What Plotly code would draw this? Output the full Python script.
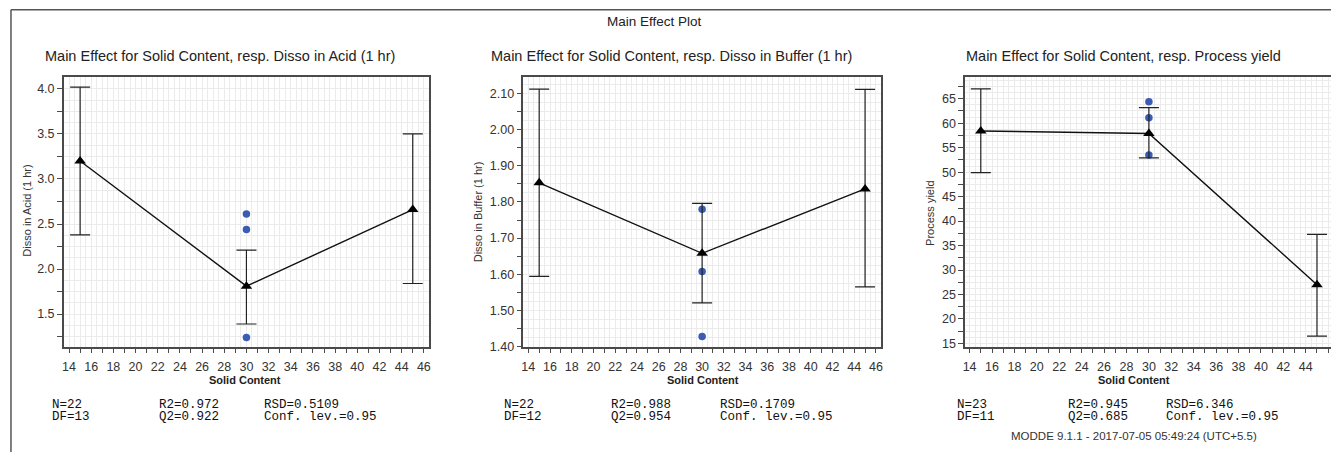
import plotly.graph_objects as go

W, H = 1333, 459

# ---------------- data ----------------
levels = [15, 30, 45]
rep_x = [30, 30, 30]

acid_mean = [3.20, 1.81, 2.66]
acid_hi = [4.02, 2.21, 3.50]
acid_lo = [2.38, 1.39, 1.84]
acid_rep = [2.61, 2.44, 1.24]

buffer_mean = [1.853, 1.658, 1.836]
buffer_hi = [2.112, 1.796, 2.111]
buffer_lo = [1.594, 1.521, 1.565]
buffer_rep = [1.780, 1.608, 1.428]

yield_mean = [58.4, 57.9, 27.0]
yield_hi = [67.0, 63.2, 37.3]
yield_lo = [49.9, 52.9, 16.5]
yield_rep = [64.4, 61.1, 53.5]

x_ticks = list(range(14, 47))
x_ticktext = [str(v) if v % 2 == 0 else "" for v in x_ticks]

acid_ticks = [1.25 + 0.25 * i for i in range(12)]
acid_ticktext = [f"{v:.1f}" if abs(v * 2 - round(v * 2)) < 1e-9 else "" for v in acid_ticks]
buffer_ticks = [round(1.40 + 0.05 * i, 2) for i in range(15)]
buffer_ticktext = [f"{v:.2f}" if i % 2 == 0 else "" for i, v in enumerate(buffer_ticks)]
yield_ticks = [15 + 2.5 * i for i in range(22)]
yield_ticktext = [str(int(v)) if i % 2 == 0 else "" for i, v in enumerate(yield_ticks)]

titles = ["Main Effect for Solid Content, resp. Disso in Acid (1 hr)",
          "Main Effect for Solid Content, resp. Disso in Buffer (1 hr)",
          "Main Effect for Solid Content, resp. Process yield"]
ytitles = ["Disso in Acid (1 hr)", "Disso in Buffer (1 hr)", "Process yield"]
stats = [
    ("N=22", "R2=0.972", "RSD=0.5109", "DF=13", "Q2=0.922", "Conf. lev.=0.95"),
    ("N=22", "R2=0.988", "RSD=0.1709", "DF=12", "Q2=0.954", "Conf. lev.=0.95"),
    ("N=23", "R2=0.945", "RSD=6.346", "DF=11", "Q2=0.685", "Conf. lev.=0.95"),
]

# ---------------- layout geometry (pixels) ----------------
px_dom = [(62, 428), (523, 882), (966, 1333)]
y_dom = [1 - 352 / H, 1 - 78 / H]
x_ranges = [[13.53, 46.44], [13.55, 46.5], [13.6, 46.25]]
y_ranges = [[1.139, 4.134], [1.40, 2.146], [14.34, 69.48]]
y_tick_sets = [(acid_ticks, acid_ticktext, 0.125),
               (buffer_ticks, buffer_ticktext, 0.025),
               (yield_ticks, yield_ticktext, 1.25)]

series = [(acid_mean, acid_hi, acid_lo, acid_rep),
          (buffer_mean, buffer_hi, buffer_lo, buffer_rep),
          (yield_mean, yield_hi, yield_lo, yield_rep)]

FONT = "Liberation Sans, Arial, sans-serif"
AX = "#4a4a4a"
GRID = "#ebebeb"
BLUE = "#3a5cb4"

fig = go.Figure()

for i, (mean, hi, lo, rep) in enumerate(series):
    sfx = "" if i == 0 else str(i + 1)
    xa, ya = "x" + sfx, "y" + sfx
    fig.add_trace(go.Scatter(
        x=rep_x, y=rep, mode="markers", xaxis=xa, yaxis=ya,
        marker=dict(symbol="circle", size=7.5, color=BLUE), showlegend=False))
    fig.add_trace(go.Scatter(
        x=levels, y=mean, mode="lines+markers", xaxis=xa, yaxis=ya,
        line=dict(color="#111111", width=1.4),
        marker=dict(symbol="triangle-up", size=10, color="#000000"),
        error_y=dict(type="data", symmetric=False,
                     array=[h - m for h, m in zip(hi, mean)],
                     arrayminus=[m - l for m, l in zip(mean, lo)],
                     color="#222222", thickness=1.2, width=10),
        showlegend=False))

layout = dict(
    width=W, height=H, margin=dict(l=0, r=0, t=0, b=0),
    paper_bgcolor="white", plot_bgcolor="white",
    font=dict(family=FONT, color="#222"),
    showlegend=False,
)

for i in range(3):
    sfx = "" if i == 0 else str(i + 1)
    x0, x1 = px_dom[i]
    yt, ytt, ymin = y_tick_sets[i]
    layout["xaxis" + sfx] = dict(
        domain=[x0 / W, x1 / W], range=x_ranges[i], anchor="y" + sfx,
        tickmode="array", tickvals=x_ticks, ticktext=x_ticktext,
        ticks="outside", ticklen=5, tickwidth=1.3, tickcolor=AX,
        ticklabelstandoff=3,
        tickfont=dict(size=12.5, color="#333", family=FONT),
        showline=True, linecolor=AX, linewidth=1.5, mirror=True,
        showgrid=True, gridcolor=GRID, gridwidth=1,
        minor=dict(dtick=0.5, tick0=0, showgrid=True, gridcolor=GRID, gridwidth=1, ticks=""),
        zeroline=False, fixedrange=True)
    layout["yaxis" + sfx] = dict(
        domain=y_dom, range=y_ranges[i], anchor="x" + sfx,
        tickmode="array", tickvals=yt, ticktext=ytt,
        ticks="outside", ticklen=5, tickwidth=1.3, tickcolor=AX,
        tickfont=dict(size=12.5, color="#333", family=FONT),
        showline=True, linecolor=AX, linewidth=1.5, mirror=(i < 2),
        showgrid=True, gridcolor=GRID, gridwidth=1,
        minor=dict(dtick=ymin, tick0=0, showgrid=True, gridcolor=GRID, gridwidth=1, ticks=""),
        zeroline=False, fixedrange=True)

fig.update_layout(**layout)


def ann(text, x, y, size, xanchor="center", family=FONT, angle=0, bold=False, color="#222"):
    fig.add_annotation(
        text=f"<b>{text}</b>" if bold else text,
        x=x / W, y=1 - y / H, xref="paper", yref="paper",
        xanchor=xanchor, yanchor="middle", showarrow=False, textangle=angle,
        font=dict(size=size, family=family, color=color))


ann("Main Effect Plot", 654, 22, 13.5)

title_cx = [219, 671.5, 1125]
ytitle_pos = [(25, 214), (477, 215), (930, 217)]
xtitle_cx = [244, 703, 1135]
stat_cols = [(48, 155.7, 260.7), (502, 609, 718), (955.7, 1067.7, 1165.3)]
MONO = "Liberation Mono, Courier New, monospace"

for i in range(3):
    ann(titles[i], title_cx[i], 57, 14.5)
    ann(ytitles[i], ytitle_pos[i][0], ytitle_pos[i][1], 11,
        family="Liberation Sans Narrow, Arial Narrow, " + FONT, angle=-90, color="#333")
    ann("Solid Content", xtitle_cx[i], 386, 11, bold=True)
    s = stats[i]
    for j in range(3):
        ann(s[j], stat_cols[i][j], 411, 12.5, xanchor="left", family=MONO, color="#111")
        ann(s[j + 3], stat_cols[i][j], 423.5, 12.5, xanchor="left", family=MONO, color="#111")

ann("MODDE 9.1.1 - 2017-07-05 05:49:24 (UTC+5.5)", 1135, 443, 11.5, color="#333")

# outer frame (top and left edges)
fig.add_shape(type="line", xref="paper", yref="paper",
              x0=9 / W, x1=1.0, y0=1 - 10 / H, y1=1 - 10 / H,
              line=dict(color="#555", width=1.5))
fig.add_shape(type="line", xref="paper", yref="paper",
              x0=9 / W, x1=9 / W, y0=0, y1=1 - 10 / H,
              line=dict(color="#555", width=1.5))

fig.write_html("out.html", config={"displayModeBar": False})
